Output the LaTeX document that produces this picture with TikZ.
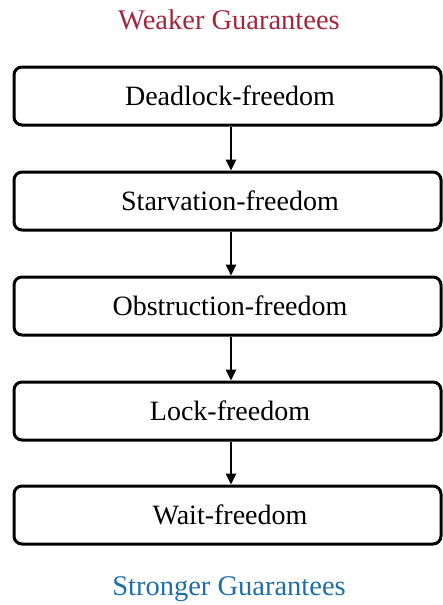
\documentclass[tikz,border=0pt]{standalone}
\usepackage{fontspec}
\setmainfont{Liberation Serif}
\usetikzlibrary{arrows.meta}
\definecolor{weakred}{RGB}{163,38,58}
\definecolor{strongblue}{RGB}{31,110,168}
\tikzset{
  levelbox/.style={draw, line width=3pt, rounded corners=8pt, minimum width=427pt, minimum height=58pt, inner sep=0pt, font=\fontsize{28}{32}\selectfont},
  implies/.style={line width=2.6pt, -{Triangle[length=11pt,width=10pt]}}
}
\begin{document}
\begin{tikzpicture}[x=1pt,y=1pt,yscale=-1,xscale=1]
\useasboundingbox (0,0) rectangle (442,605);

% Text Node
\node (weaker) at (229,20) [font=\fontsize{28.5}{32}\selectfont, text=weakred] {Weaker Guarantees};
% Boxes
\node (deadlock) at (227.5,96) [levelbox] {\hspace{5pt}Deadlock-freedom};
\node (starvation) at (227.5,201) [levelbox] {\hspace{5pt}Starvation-freedom};
\node (obstruction) at (227.5,306) [levelbox] {\hspace{5pt}Obstruction-freedom};
\node (lock) at (227.5,411) [levelbox] {\hspace{5pt}Lock-freedom};
\node (wait) at (227.5,515) [levelbox] {\hspace{5pt}Wait-freedom};
% Text Node
\node (stronger) at (229,589) [font=\fontsize{28.5}{32}\selectfont, text=strongblue] {Stronger Guarantees};

% Arrows
\draw [implies] (deadlock.south -| 231,0) -- (starvation.north -| 231,0);
\draw [implies] (starvation.south -| 231,0) -- (obstruction.north -| 231,0);
\draw [implies] (obstruction.south -| 231,0) -- (lock.north -| 231,0);
\draw [implies] (lock.south -| 231,0) -- (wait.north -| 231,0);

\end{tikzpicture}
\end{document}
